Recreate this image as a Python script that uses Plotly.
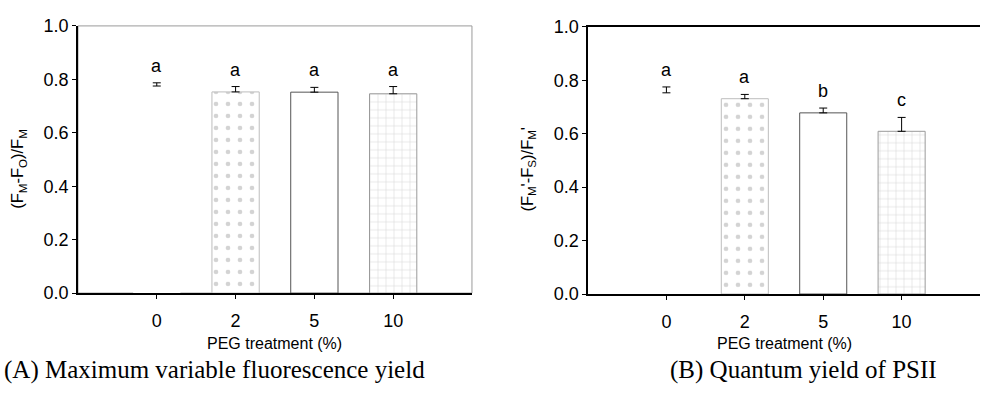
import plotly.graph_objects as go

# ---- data ----
categories = ["0", "2", "5", "10"]
fvfm_mean = [0.775, 0.753, 0.752, 0.746]
fvfm_err = [0.012, 0.020, 0.018, 0.027]
fvfm_letters = ["a", "a", "a", "a"]

phi_mean = [0.753, 0.731, 0.678, 0.609]
phi_err = [0.022, 0.016, 0.018, 0.052]
phi_letters = ["a", "a", "b", "c"]

x_title = "PEG treatment (%)"
y_title_a = "(F<sub>M</sub>-F<sub>O</sub>)/F<sub>M</sub>"
y_title_b = "(F<sub>M</sub>'-F<sub>S</sub>)/F<sub>M</sub>'"
caption_a = "(A) Maximum variable fluorescence yield"
caption_b = "(B) Quantum yield of PSII"

# ---- style ----
SANS = "Liberation Sans, Arial, sans-serif"
SERIF = "Liberation Serif, Times New Roman, serif"
pattern_shapes_a = ["", ".", "", "+"]
pattern_shapes_b = ["", ".", "", "+"]
pattern_sizes = [8, 12, 8, 8]
line_colors = ["rgba(255,255,255,0)", "#bdbdbd", "#555555", "#9a9a9a"]

fig = go.Figure()

def add_panel(means, errs, shapes, xa, ya):
    fig.add_trace(go.Bar(
        x=categories, y=means, xaxis=xa, yaxis=ya, width=0.6,
        marker=dict(color="white",
                    line=dict(color=line_colors, width=1),
                    pattern=dict(shape=shapes, fgcolor="#a8a8a8", bgcolor="white",
                                 size=pattern_sizes, solidity=0.12)),
        error_y=dict(type="data", symmetric=False, array=errs,
                     arrayminus=[0] * len(errs), color="black",
                     thickness=1, width=4),
        showlegend=False, hoverinfo="skip"))

add_panel(fvfm_mean, fvfm_err, pattern_shapes_a, "x", "y")
add_panel(phi_mean, phi_err, pattern_shapes_b, "x2", "y2")

tickfont = dict(family=SANS, size=18, color="black")
common_x = dict(type="category", range=[-1, 4], showgrid=False, zeroline=False,
                showline=True, linecolor="black", linewidth=1.5,
                ticks="outside", ticklen=4, tickcolor="black", tickfont=tickfont,
                ticklabelstandoff=7, fixedrange=True)
common_y = dict(range=[0, 1], dtick=0.2, tickformat=".1f", showgrid=False,
                zeroline=False, showline=True, linecolor="black", linewidth=1.5,
                ticks="outside", ticklen=4, tickcolor="black", tickfont=tickfont,
                fixedrange=True)

fig.update_layout(
    width=981, height=399,
    margin=dict(l=0, r=0, t=0, b=0),
    paper_bgcolor="white", plot_bgcolor="white",
    bargap=0.4,
    xaxis=dict(domain=[0.0795, 0.4811], anchor="y", **common_x),
    yaxis=dict(domain=[0.2531, 0.958], anchor="x", **common_y),
    xaxis2=dict(domain=[0.5994, 0.999], anchor="y2", mirror=True, **common_x),
    yaxis2=dict(domain=[0.2506, 0.9556], anchor="x2", **common_y),
)

# faint frame on panel A (top and right)
fig.add_shape(type="rect", xref="x domain", yref="y domain", x0=0, x1=1, y0=0, y1=1,
              line=dict(color="#9a9a9a", width=1), layer="below")

# significance letters (category axes: position by category index)
for xa, ya, means, errs, letters in [("x", "y", fvfm_mean, fvfm_err, fvfm_letters),
                                      ("x2", "y2", phi_mean, phi_err, phi_letters)]:
    for i, (m, e, l) in enumerate(zip(means, errs, letters)):
        fig.add_annotation(x=i, y=m + e, xref=xa, yref=ya, text=l, showarrow=False,
                           yshift=17, yanchor="middle",
                           font=dict(family=SANS, size=18, color="black"))

# axis titles
for xc, t in [(0.0183, y_title_a), (0.538, y_title_b)]:
    fig.add_annotation(x=xc, y=0.581, xref="paper", yref="paper", text=t,
                       textangle=-90, showarrow=False, xanchor="center", yanchor="middle",
                       font=dict(family=SANS, size=16.5, color="black"))
for xc in [(0.0795 + 0.4811) / 2, (0.5994 + 0.999) / 2]:
    fig.add_annotation(x=xc, y=0.12, xref="paper", yref="paper", text=x_title,
                       showarrow=False, xanchor="center", yanchor="middle",
                       font=dict(family=SANS, size=16, color="black"))

# captions
fig.add_annotation(x=214 / 981, y=0.05, xref="paper", yref="paper", text=caption_a,
                   showarrow=False, xanchor="center", yanchor="middle",
                   font=dict(family=SERIF, size=25, color="black"))
fig.add_annotation(x=803 / 981, y=0.05, xref="paper", yref="paper", text=caption_b,
                   showarrow=False, xanchor="center", yanchor="middle",
                   font=dict(family=SERIF, size=25, color="black"))

fig.write_html("out.html")
